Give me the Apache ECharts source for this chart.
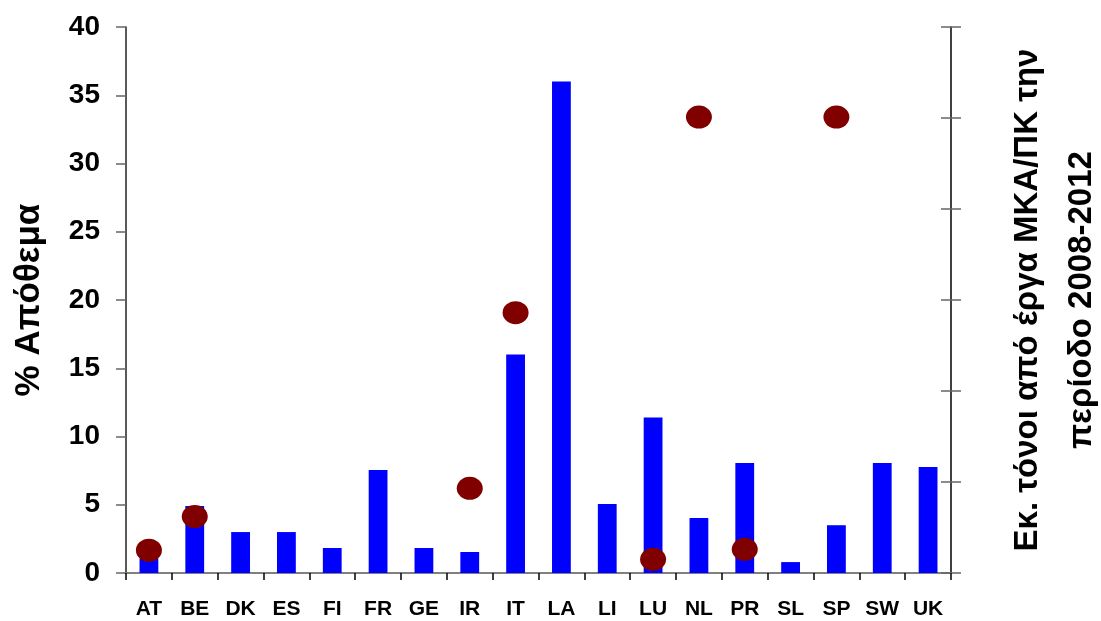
<!DOCTYPE html>
<html>
<head>
<meta charset="utf-8">
<script src="https://cdn.jsdelivr.net/npm/echarts@6/dist/echarts.min.js"></script>
<style>
html,body{margin:0;padding:0;background:#fff;}
#chart{width:1101px;height:621px;}
</style>
</head>
<body>
<div id="chart"></div>
<script>
const categories = ['AT','BE','DK','ES','FI','FR','GE','IR','IT','LA','LI','LU','NL','PR','SL','SP','SW','UK'];
const stockPercent = [1.05, 4.9, 3.0, 3.0, 1.83, 7.55, 1.83, 1.54, 16.0, 36.0, 5.05, 11.4, 4.03, 8.06, 0.8, 3.5, 8.06, 7.77];
const tonnesProjects = [2.5, 6.2, null, null, null, null, null, 9.3, 28.6, null, null, 1.5, 50.1, 2.6, null, 50.1, null, null];
const leftTicks = {min: 0, max: 40, interval: 5};
const rightTicks = {min: 0, max: 60, interval: 10};
const leftTitle = '% Απόθεμα';
const rightTitle = 'Εκ. τόνοι από έργα ΜΚΑ/ΠΚ την\nπερίοδο 2008-2012';

const FONT = "'Liberation Sans',Arial,sans-serif";
const chart = echarts.init(document.getElementById('chart'), null, {renderer: 'canvas'});
chart.setOption({
  animation: false,
  backgroundColor: '#ffffff',
  grid: {left: 126, right: 150, top: 27, bottom: 48, containLabel: false, outerBoundsMode: 'none'},
  xAxis: {
    type: 'category',
    data: categories,
    boundaryGap: true,
    axisLine: {show: true, lineStyle: {color: '#808080', width: 2}},
    axisTick: {show: true, alignWithLabel: false, interval: 0, length: 7, lineStyle: {color: '#000', width: 1.5}},
    axisLabel: {color: '#000', fontFamily: FONT, fontWeight: 'bold', fontSize: 21, margin: 26, interval: 0, hideOverlap: false},
    splitLine: {show: false}
  },
  yAxis: [
    {
      type: 'value', position: 'left',
      min: leftTicks.min, max: leftTicks.max, interval: leftTicks.interval,
      name: leftTitle, nameLocation: 'middle', nameRotate: 90, nameGap: 79,
      nameTextStyle: {color: '#000', fontFamily: FONT, fontWeight: 'bold', fontSize: 35},
      axisLine: {show: true, lineStyle: {color: '#222', width: 1.5}},
      axisTick: {show: true, inside: false, length: 10, lineStyle: {color: '#666', width: 1.5}},
      axisLabel: {color: '#000', fontFamily: FONT, fontWeight: 'bold', fontSize: 28, margin: 26},
      splitLine: {show: false}
    },
    {
      type: 'value', position: 'right',
      min: rightTicks.min, max: rightTicks.max, interval: rightTicks.interval,
      name: rightTitle, nameLocation: 'middle', nameRotate: 90, nameGap: 50,
      nameTextStyle: {color: '#000', fontFamily: FONT, fontWeight: 'bold', fontSize: 33, lineHeight: 54, align: 'center'},
      axisLine: {show: true, lineStyle: {color: '#000', width: 1.5}},
      axisTick: {show: true, inside: false, length: 10, lineStyle: {color: '#666', width: 1.5}},
      axisLabel: {show: false},
      splitLine: {show: false}
    },
    {
      type: 'value', position: 'right',
      min: rightTicks.min, max: rightTicks.max, interval: rightTicks.interval,
      axisLine: {show: false},
      axisTick: {show: true, inside: true, length: 10, lineStyle: {color: '#666', width: 1.5}},
      axisLabel: {show: false},
      splitLine: {show: false}
    }
  ],
  series: [
    {
      type: 'bar', yAxisIndex: 0, data: stockPercent,
      barWidth: '41%',
      itemStyle: {color: '#0000ff'},
      z: 2
    },
    {
      type: 'scatter', yAxisIndex: 1, data: tonnesProjects,
      symbol: 'circle', symbolSize: [26, 23],
      itemStyle: {color: '#800000', opacity: 1},
      z: 3
    }
  ]
});
</script>
</body>
</html>
